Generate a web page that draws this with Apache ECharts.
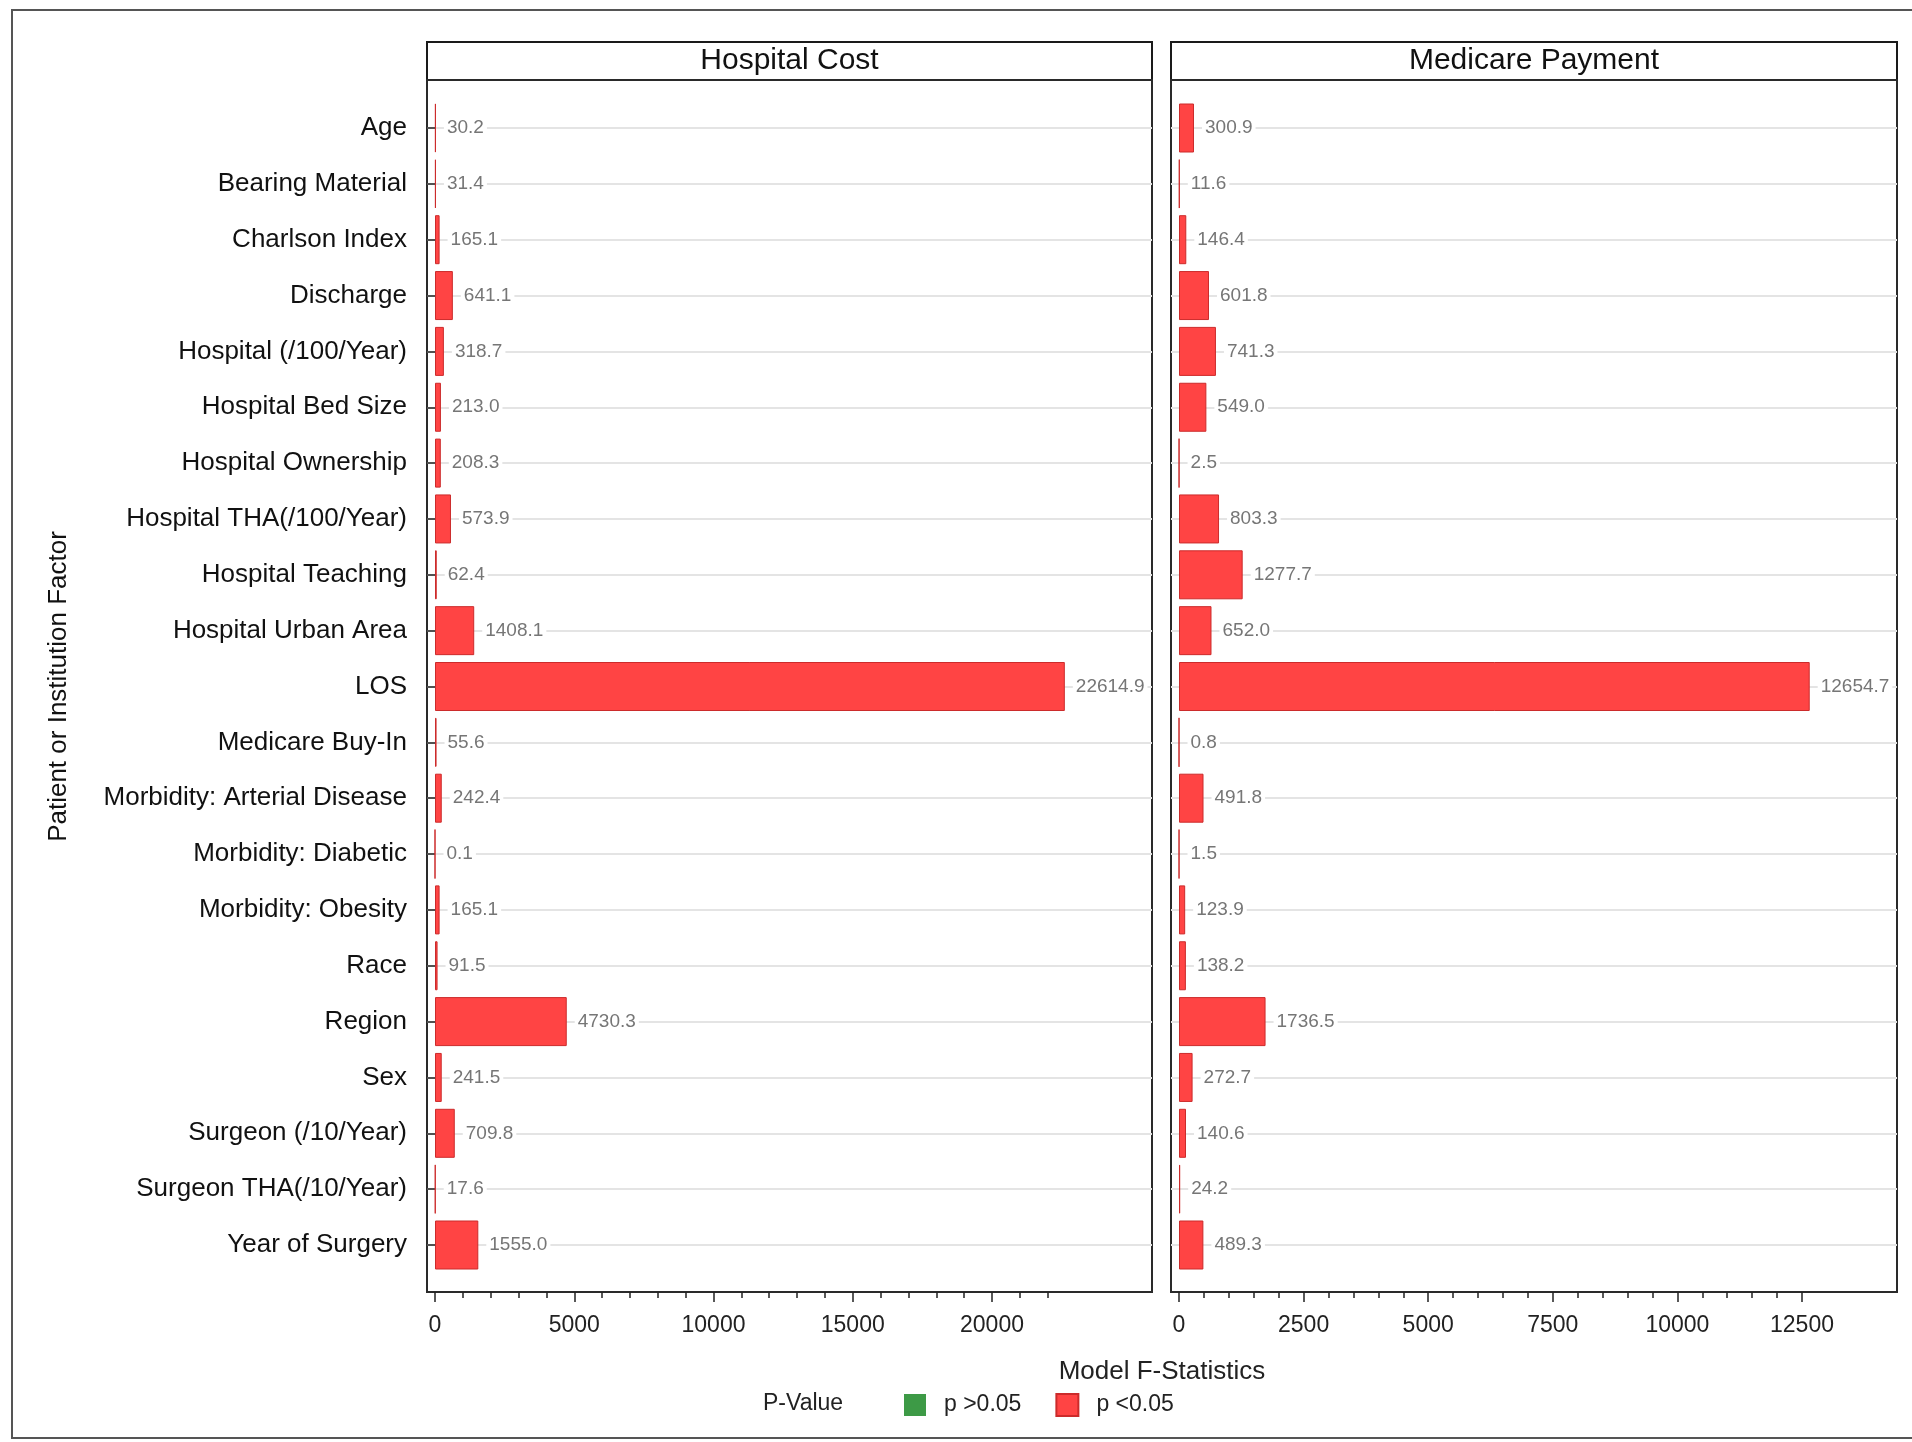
<!DOCTYPE html>
<html>
<head>
<meta charset="utf-8">
<script src="https://cdn.jsdelivr.net/npm/echarts@6/dist/echarts.min.js"></script>
<style>
html,body{margin:0;padding:0;background:#fff;}
#chart{width:1912px;height:1442px;}
</style>
</head>
<body>
<div id="chart"></div>
<script>
const categories = [
  'Age','Bearing Material','Charlson Index','Discharge','Hospital (/100/Year)',
  'Hospital Bed Size','Hospital Ownership','Hospital THA(/100/Year)','Hospital Teaching',
  'Hospital Urban Area','LOS','Medicare Buy-In','Morbidity: Arterial Disease',
  'Morbidity: Diabetic','Morbidity: Obesity','Race','Region','Sex',
  'Surgeon (/10/Year)','Surgeon THA(/10/Year)','Year of Surgery'
];
const hospitalCost = [30.2,31.4,165.1,641.1,318.7,213.0,208.3,573.9,62.4,1408.1,22614.9,55.6,242.4,0.1,165.1,91.5,4730.3,241.5,709.8,17.6,1555.0];
const medicarePayment = [300.9,11.6,146.4,601.8,741.3,549.0,2.5,803.3,1277.7,652.0,12654.7,0.8,491.8,1.5,123.9,138.2,1736.5,272.7,140.6,24.2,489.3];
const panelTitles = ['Hospital Cost','Medicare Payment'];
const legendNames = ['p >0.05','p <0.05'];

const FONT = "'Liberation Sans', Arial, Helvetica, sans-serif";
const RED = '#ff4444', RED_EDGE = '#cc2b2b', GREEN = '#3d9a46';

// panel geometry (px)
const panels = [
  {left:427, right:1152, zeroPx:435, pxPer1000:27.85, majorMax:20000, majorInt:5000, minorMax:22000, minorInt:1000, data:hospitalCost},
  {left:1171, right:1897, zeroPx:1179, pxPer1000:49.84, majorMax:12500, majorInt:2500, minorMax:12500, minorInt:500, data:medicarePayment}
];
const headerTop = 42, frameTop = 80, frameBottom = 1292, dataTop = 128, dataBottom = 1245;

const grids = [], xAxes = [], yAxes = [], series = [], titles = [];
const hidden = (gi) => ({gridIndex:gi, type:'value', show:false, min:0, max:1});

panels.forEach((p, pi) => {
  const w = p.right - p.left;
  const base = grids.length;
  // header box
  grids.push({left:p.left, top:headerTop, width:w, height:frameTop-headerTop, show:true, borderColor:'#1a1a1a', borderWidth:2, backgroundColor:'#fff'});
  xAxes.push(hidden(base)); yAxes.push(hidden(base));
  // frame box
  grids.push({left:p.left, top:frameTop, width:w, height:frameBottom-frameTop, show:true, borderColor:'#2a2a2a', borderWidth:2});
  xAxes.push(hidden(base+1)); yAxes.push(hidden(base+1));
  // data grid
  const scale = p.pxPer1000/1000;
  grids.push({left:p.left, top:dataTop, width:w, height:dataBottom-dataTop});
  xAxes.push({gridIndex:base+2, type:'value', show:false,
    min:-(p.zeroPx-p.left)/scale, max:(p.right-p.zeroPx)/scale});
  yAxes.push({gridIndex:base+2, type:'category', data:categories, inverse:true, boundaryGap:false,
    axisLine:{show:false},
    axisTick:{show:pi===0, length:8, lineStyle:{color:'#222', width:1.5}},
    axisLabel:{show:pi===0, margin:20, fontSize:26, color:'#111', fontFamily:FONT},
    splitLine:{show:true, lineStyle:{color:'#e4e4e4', width:2}},
    name: pi===0 ? 'Patient or Institution Factor' : '',
    nameLocation:'middle', nameRotate:90, nameGap:355,
    nameTextStyle:{fontSize:26, color:'#111', fontFamily:FONT}
  });
  // major ticks
  grids.push({left:p.zeroPx, top:frameBottom-10, width:p.majorMax*scale, height:10});
  xAxes.push({gridIndex:base+3, type:'value', min:0, max:p.majorMax, interval:p.majorInt, position:'bottom',
    axisLine:{show:false}, splitLine:{show:false},
    axisTick:{show:true, length:10, lineStyle:{color:'#222', width:1.5}},
    axisLabel:{show:true, margin:22, fontSize:23, color:'#222', fontFamily:FONT, formatter:(v)=>String(v)}
  });
  yAxes.push(hidden(base+3));
  // minor ticks
  grids.push({left:p.zeroPx, top:frameBottom-10, width:p.minorMax*scale, height:10});
  xAxes.push({gridIndex:base+4, type:'value', min:0, max:p.minorMax, interval:p.minorInt, position:'bottom',
    axisLine:{show:false}, splitLine:{show:false},
    axisTick:{show:true, length:6, lineStyle:{color:'#222', width:1.5}},
    axisLabel:{show:false}
  });
  yAxes.push(hidden(base+4));

  series.push({
    name: legendNames[1], type:'bar', xAxisIndex:base+2, yAxisIndex:base+2,
    data:p.data, barWidth:49, barGap:'-100%',
    itemStyle:{color:RED, borderColor:RED_EDGE, borderWidth:1},
    label:{show:true, position:'right', distance:8, fontSize:19, color:'#767676', fontFamily:FONT,
      backgroundColor:'#fff', padding:[0,3],
      formatter:(d)=>d.value.toFixed(1)},
    z:3
  });
  titles.push({text:panelTitles[pi], left:(p.left+p.right)/2, top:46, textAlign:'center', padding:0,
    textStyle:{fontSize:30, fontWeight:'normal', color:'#111', fontFamily:FONT}});
});

// legend-only series for p > 0.05 (no bars in this chart), overlapping so it takes no space
series.push({name:legendNames[0], type:'bar', xAxisIndex:2, yAxisIndex:2, data:[], barWidth:49, barGap:'-100%', itemStyle:{color:GREEN}});

titles.push({text:'Model F-Statistics', left:1162, top:1359, textAlign:'center', padding:0,
  textStyle:{fontSize:26, fontWeight:'normal', color:'#222', fontFamily:FONT}});
titles.push({text:'P-Value', left:763, top:1392, padding:0,
  textStyle:{fontSize:23, fontWeight:'normal', color:'#222', fontFamily:FONT}});

const option = {
  animation:false,
  backgroundColor:'#fff',
  title:titles,
  legend:{data:legendNames, left:904, top:1393, icon:'rect', itemWidth:22, itemHeight:22, itemGap:34,
    padding:0, selectedMode:false,
    textStyle:{fontSize:23, color:'#222', fontFamily:FONT, padding:[0,0,0,13]}},
  grid:grids,
  xAxis:xAxes,
  yAxis:yAxes,
  series:series,
  graphic:[{type:'rect', silent:true, shape:{x:12, y:10, width:1920, height:1428},
    style:{fill:'none', stroke:'#555', lineWidth:2}, z:100}]
};

const chart = echarts.init(document.getElementById('chart'), null, {renderer:'canvas'});
chart.setOption(option);
</script>
</body>
</html>
